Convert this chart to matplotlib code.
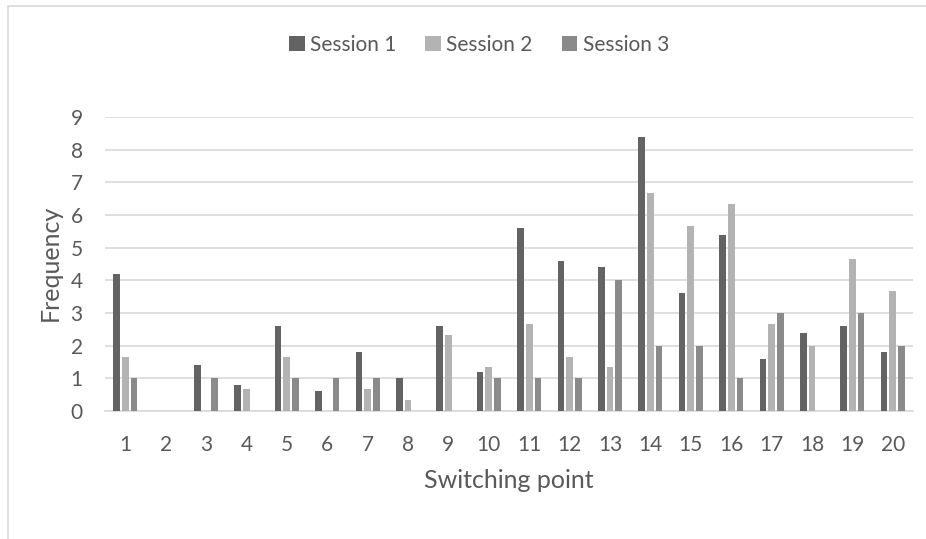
import numpy as np
import matplotlib.pyplot as plt
from matplotlib.patches import Rectangle

# switching points 1..20
points = [str(i) for i in range(1, 21)]
session1 = [4.2, 0, 1.4, 0.8, 2.6, 0.6, 1.8, 1.0, 2.6, 1.2,
            5.6, 4.6, 4.4, 8.4, 3.6, 5.4, 1.6, 2.4, 2.6, 1.8]
session2 = [5/3, 0, 0, 2/3, 5/3, 0, 2/3, 1/3, 7/3, 4/3,
            8/3, 5/3, 4/3, 20/3, 17/3, 19/3, 8/3, 2.0, 14/3, 11/3]
session3 = [1, 0, 1, 0, 1, 1, 1, 0, 0, 1,
            1, 1, 4, 2, 2, 1, 3, 0, 3, 2]

names = ['Session 1', 'Session 2', 'Session 3']
colors = ['#636363', '#b3b3b3', '#8a8a8a']
txt = '#595959'

plt.rcParams['font.family'] = ['Lato', 'DejaVu Sans']

W, H = 926, 539
fig = plt.figure(figsize=(W / 100, H / 100), dpi=100)
ax = fig.add_axes([105 / W, 1 - 411 / H, 808 / W, 294 / H])

x = np.arange(len(points))
w = 0.165
step = 0.215
for i, (vals, name, c) in enumerate(zip([session1, session2, session3], names, colors)):
    ax.bar(x + (i - 1) * step, vals, w, color=c, label=name, zorder=3)

ax.set_xlim(-0.5, len(points) - 0.5)
ax.set_ylim(0, 9)
ax.set_yticks(range(10))
ax.set_xticks(x)
ax.set_xticklabels(points)
ax.grid(axis='y', color='#d9d9d9', linewidth=1.2, zorder=0)
for s in ['top', 'right', 'left']:
    ax.spines[s].set_visible(False)
ax.spines['bottom'].set_color('#d9d9d9')
ax.spines['bottom'].set_linewidth(1.2)
ax.tick_params(length=0, labelsize=15, colors=txt)
ax.tick_params(axis='x', pad=17)
ax.tick_params(axis='y', pad=16)

fig.text(509 / W, 1 - 481 / H, 'Switching point', fontsize=18, color=txt,
         ha='center', va='center')
fig.text(50 / W, 1 - 263 / H, 'Frequency', fontsize=18, color=txt,
         ha='center', va='center', rotation=90)

leg = fig.legend(loc='center', bbox_to_anchor=(479 / W, 1 - 45 / H), ncol=3, frameon=False,
                 fontsize=15, handlelength=0.75, handleheight=0.75, handletextpad=0.25,
                 columnspacing=1.4)
for t in leg.get_texts():
    t.set_color(txt)

fig.patches.append(Rectangle((8 / W, -0.1), 1.2, 1 - 6 / H + 0.1, transform=fig.transFigure,
                             fill=False, edgecolor='#d9d9d9', linewidth=1.2))

fig.savefig('out.png', dpi=100)
